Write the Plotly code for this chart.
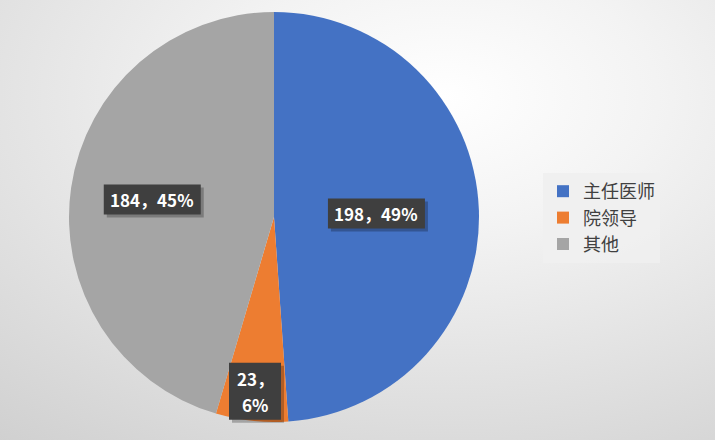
import math
import base64
import plotly.graph_objects as go

categories = ["主任医师", "院领导", "其他"]
values = [198, 23, 184]
colors = ["#4472C4", "#ED7D31", "#A5A5A5"]
label_radius = [0.5, 0.855, 0.6]
label_breaks = [False, True, False]

W, H = 715, 440
cx, cy, r = 274, 217, 205
LINE_H = 26

svg = f'''<svg xmlns="http://www.w3.org/2000/svg" width="{W}" height="{H}">
<defs><radialGradient id="g" cx="62%" cy="22%" r="100%">
<stop offset="0%" stop-color="#ffffff"/><stop offset="30%" stop-color="#f3f3f3"/>
<stop offset="100%" stop-color="#d0d0d0"/></radialGradient></defs>
<rect width="{W}" height="{H}" fill="url(#g)"/></svg>'''
bg = "data:image/svg+xml;base64," + base64.b64encode(svg.encode()).decode()

fig = go.Figure()
fig.add_trace(go.Pie(
    labels=categories, values=values, sort=False, direction="clockwise", rotation=0,
    marker=dict(colors=colors, line=dict(width=0)),
    textinfo="none", hoverinfo="label+value+percent",
    domain=dict(x=[(cx - r) / W, (cx + r) / W], y=[1 - (cy + r) / H, 1 - (cy - r) / H]),
))

total = sum(values)
cum = 0
font = "Noto Sans CJK SC, Microsoft YaHei, sans-serif"
for v, lr, br in zip(values, label_radius, label_breaks):
    mid = (cum + v / 2) / total * 2 * math.pi
    cum += v
    px = cx + lr * r * math.sin(mid)
    py = cy - lr * r * math.cos(mid)
    pct = round(v / total * 100)
    lines = [f"{v}，", f"{pct}%"] if br else [f"{v}，{pct}%"]
    tw, th = (52, 57) if br else (97, 30)
    # shadow + box
    fig.add_shape(type="rect", xref="paper", yref="paper",
                  x0=(px - tw / 2 + 3) / W, x1=(px + tw / 2 + 3) / W,
                  y0=1 - (py + th / 2 + 3) / H, y1=1 - (py - th / 2 + 3) / H,
                  fillcolor="rgba(0,0,0,0.25)", line=dict(width=0))
    fig.add_shape(type="rect", xref="paper", yref="paper",
                  x0=(px - tw / 2) / W, x1=(px + tw / 2) / W,
                  y0=1 - (py + th / 2) / H, y1=1 - (py - th / 2) / H,
                  fillcolor="#3f3f3f", line=dict(width=0))
    n = len(lines)
    for i, ln in enumerate(lines):
        ly = py + (i - (n - 1) / 2) * LINE_H
        fig.add_annotation(x=px / W, y=1 - ly / H, xref="paper", yref="paper",
                           xanchor="center", yanchor="middle",
                           text=f"<b>{ln}</b>", showarrow=False,
                           font=dict(family=font, size=17, color="white"))

fig.add_layout_image(dict(source=bg, xref="paper", yref="paper", x=0, y=1, sizex=1, sizey=1,
                          sizing="stretch", layer="below", xanchor="left", yanchor="top"))

fig.update_layout(
    width=W, height=H, margin=dict(l=0, r=0, t=0, b=0),
    paper_bgcolor="#ececec",
    showlegend=True,
    legend=dict(x=543 / W, y=1 - 218 / H, xanchor="left", yanchor="middle",
                bgcolor="rgba(240,240,240,0.9)",
                font=dict(family=font, size=18, color="#404040"),
                itemwidth=30),
)
fig.write_html("out.html", config={"displayModeBar": False},
               post_script="document.body.style.margin='0';document.body.style.overflow='hidden';")
